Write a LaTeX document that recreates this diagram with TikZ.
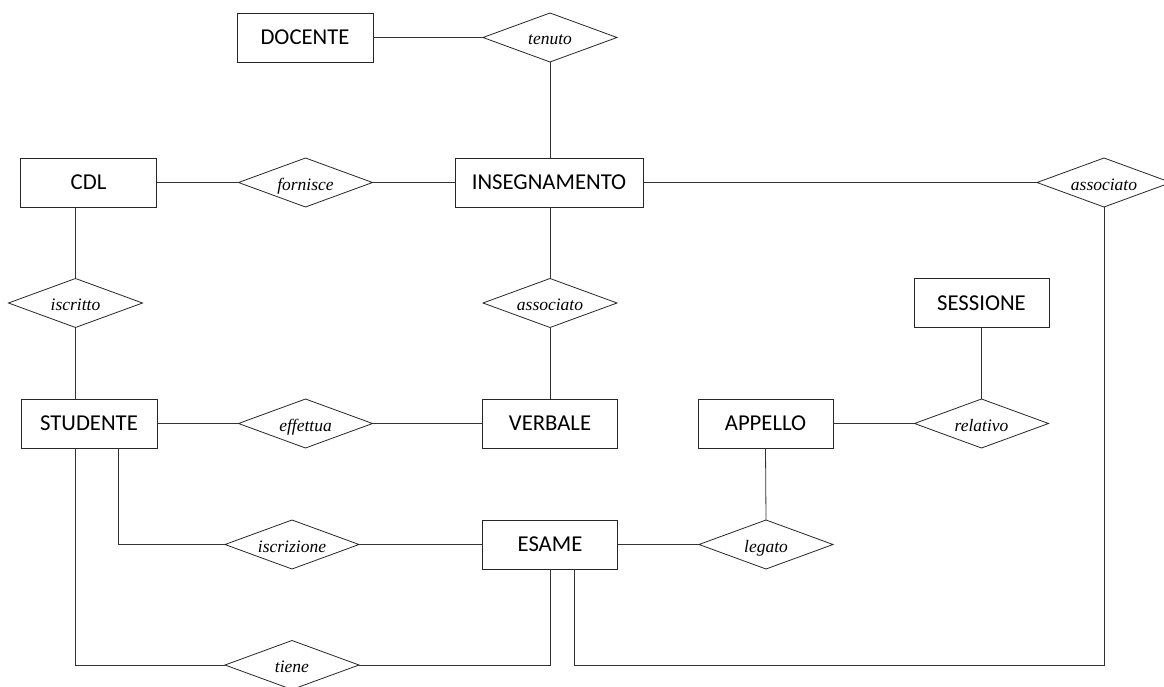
\documentclass[tikz,border=0pt]{standalone}
\usepackage{fontspec}
\setmainfont{Liberation Serif}
\setsansfont{Carlito}
\usetikzlibrary{shapes.geometric}

\tikzset{
  entity/.style={draw=black!85, line width=0.8pt, rectangle, inner sep=0pt, outer sep=0pt,
    minimum width=136pt, minimum height=49pt,
    font=\sffamily\fontsize{22.7}{25}\selectfont},
  relation/.style={draw=black!85, line width=0.8pt, diamond, aspect=2.73,
    inner sep=0pt, outer sep=0pt,
    minimum width=134pt, minimum height=49pt,
    text height=15pt, text depth=0pt,
    font=\itshape\fontsize{17.5}{19}\selectfont},
  link/.style={draw=black!80, line width=0.8pt}
}

\begin{document}
\begin{tikzpicture}[x=1pt, y=-1pt]
  \useasboundingbox (0,0) rectangle (1164,687);
  \clip (0,0) rectangle (1164,687);

  % entities
  \node[entity] (docente) at (305,37.5) {DOCENTE};
  \node[entity] (cdl) at (88.5,182.5) {CDL};
  \node[entity, minimum width=188pt] (insegnamento) at (549,182.5) {INSEGNAMENTO};
  \node[entity, minimum width=135pt] (sessione) at (981.5,303) {SESSIONE};
  \node[entity] (studente) at (89,423.5) {STUDENTE};
  \node[entity, minimum width=135pt] (verbale) at (550,423.5) {VERBALE};
  \node[entity, minimum width=135pt] (appello) at (765.5,423.5) {APPELLO};
  \node[entity, minimum width=135pt] (esame) at (550,544.5) {ESAME};

  % relationships
  \node[relation] (tenuto) at (550,37.5) {tenuto};
  \node[relation] (fornisce) at (305.5,182.5) {fornisce};
  \node[relation] (assocB) at (1104,182.5) {associato};
  \node[relation] (iscritto) at (75.5,303) {iscritto};
  \node[relation] (assocA) at (550,303) {associato};
  \node[relation] (relativo) at (981.5,423.5) {relativo};
  \node[relation] (effettua) at (305.5,423.5) {effettua};
  \node[relation] (iscrizione) at (292,544.5) {iscrizione};
  \node[relation] (legato) at (766,544.5) {legato};
  \node[relation] (tiene) at (292,665) {tiene};

  % connectors
  \draw[link] (docente.east) -- (tenuto.west);
  \draw[link] (tenuto.south) -- (tenuto.south |- insegnamento.north);
  \draw[link] (cdl.east) -- (fornisce.west);
  \draw[link] (fornisce.east) -- (insegnamento.west);
  \draw[link] (insegnamento.east) -- (assocB.west);
  \draw[link] (iscritto.north |- cdl.south) -- (iscritto.north);
  \draw[link] (iscritto.south) -- (iscritto.south |- studente.north);
  \draw[link] (assocA.north |- insegnamento.south) -- (assocA.north);
  \draw[link] (assocA.south) -- (verbale.north);
  \draw[link] (sessione.south) -- (relativo.north);
  \draw[link] (appello.east) -- (relativo.west);
  \draw[link] (studente.east) -- (effettua.west);
  \draw[link] (effettua.east) -- (verbale.west);
  \draw[link] ([xshift=29.5pt]studente.south) |- (iscrizione.west);
  \draw[link] (iscrizione.east) -- (esame.west);
  \draw[link] (esame.east) -- (legato.west);
  \draw[link] (appello.south) -- (legato.north);
  \draw[link] (iscritto.south |- studente.south) |- (tiene.west);
  \draw[link] (tiene.east) -| (esame.south);
  \coordinate (corner) at (assocB.south |- tiene.east);
  \draw[link] ([xshift=24pt]esame.south) |- (corner) -- (assocB.south);
\end{tikzpicture}
\end{document}
